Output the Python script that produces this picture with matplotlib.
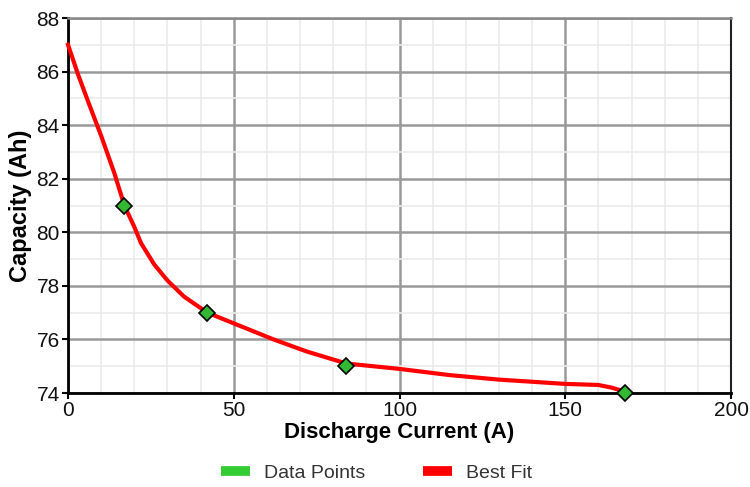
import matplotlib
matplotlib.use('Agg')
import matplotlib.pyplot as plt
from matplotlib.lines import Line2D
from matplotlib.ticker import MultipleLocator

plt.rcParams['font.family'] = ['Liberation Sans', 'DejaVu Sans']

# measured points
current_pts = [17, 42, 84, 168]
capacity_pts = [81, 77, 75, 74]

# best fit curve
fit_current = [0, 3, 6, 10, 14, 17, 20, 22, 26, 30, 35, 42, 50, 62, 72, 84,
               100, 115, 130, 150, 160, 164, 168]
fit_capacity = [87.0, 85.9, 84.9, 83.6, 82.2, 81.0, 80.2, 79.6, 78.8, 78.2, 77.6,
                77.0, 76.6, 76.0, 75.55, 75.1, 74.9, 74.67, 74.5, 74.34, 74.3, 74.2, 74.05]

fig = plt.figure(figsize=(7.5, 4.87), dpi=100)
ax = fig.add_axes([0.0907, 0.193, 0.884, 0.77])

ax.plot(fit_current, fit_capacity, color='#ff0000', lw=3, zorder=3, clip_on=False)
ax.plot(current_pts, capacity_pts, linestyle='none', marker='D', markersize=8,
        markerfacecolor='#33b833', markeredgecolor='black', markeredgewidth=1.2,
        zorder=4, clip_on=False)

ax.set_xlim(0, 200)
ax.set_ylim(74, 88)
ax.xaxis.set_major_locator(MultipleLocator(50))
ax.xaxis.set_minor_locator(MultipleLocator(10))
ax.yaxis.set_major_locator(MultipleLocator(2))
ax.yaxis.set_minor_locator(MultipleLocator(1))

ax.grid(which='minor', color='#ebebeb', lw=1.2)
ax.grid(which='major', color='#999999', lw=1.8)
ax.set_axisbelow(True)

for side in ['left', 'bottom']:
    ax.spines[side].set_color('black')
    ax.spines[side].set_linewidth(2)
ax.spines['top'].set_color('#888888')
ax.spines['top'].set_linewidth(1.8)
ax.spines['right'].set_color('#222222')
ax.spines['right'].set_linewidth(1.5)

ax.tick_params(which='major', length=4, width=1.5, labelsize=15, colors='black',
               labelcolor='#111111', pad=2)
ax.tick_params(which='minor', length=0)

ax.set_xlabel('Discharge Current (A)', fontsize=16, fontweight='bold', labelpad=1)
ax.set_ylabel('Capacity (Ah)', fontsize=17, fontweight='bold', labelpad=3)

handles = [Line2D([0], [0], color='#33cc33', lw=7, solid_capstyle='butt'),
           Line2D([0], [0], color='#ff0000', lw=7, solid_capstyle='butt')]
fig.legend(handles, ['Data Points', 'Best Fit'], loc='lower center',
           bbox_to_anchor=(0.502, -0.025), ncol=2, frameon=False, fontsize=14,
           handlelength=1.5, handletextpad=0.7, columnspacing=3.0,
           labelcolor='#333333')

fig.savefig('out.png', dpi=100)
